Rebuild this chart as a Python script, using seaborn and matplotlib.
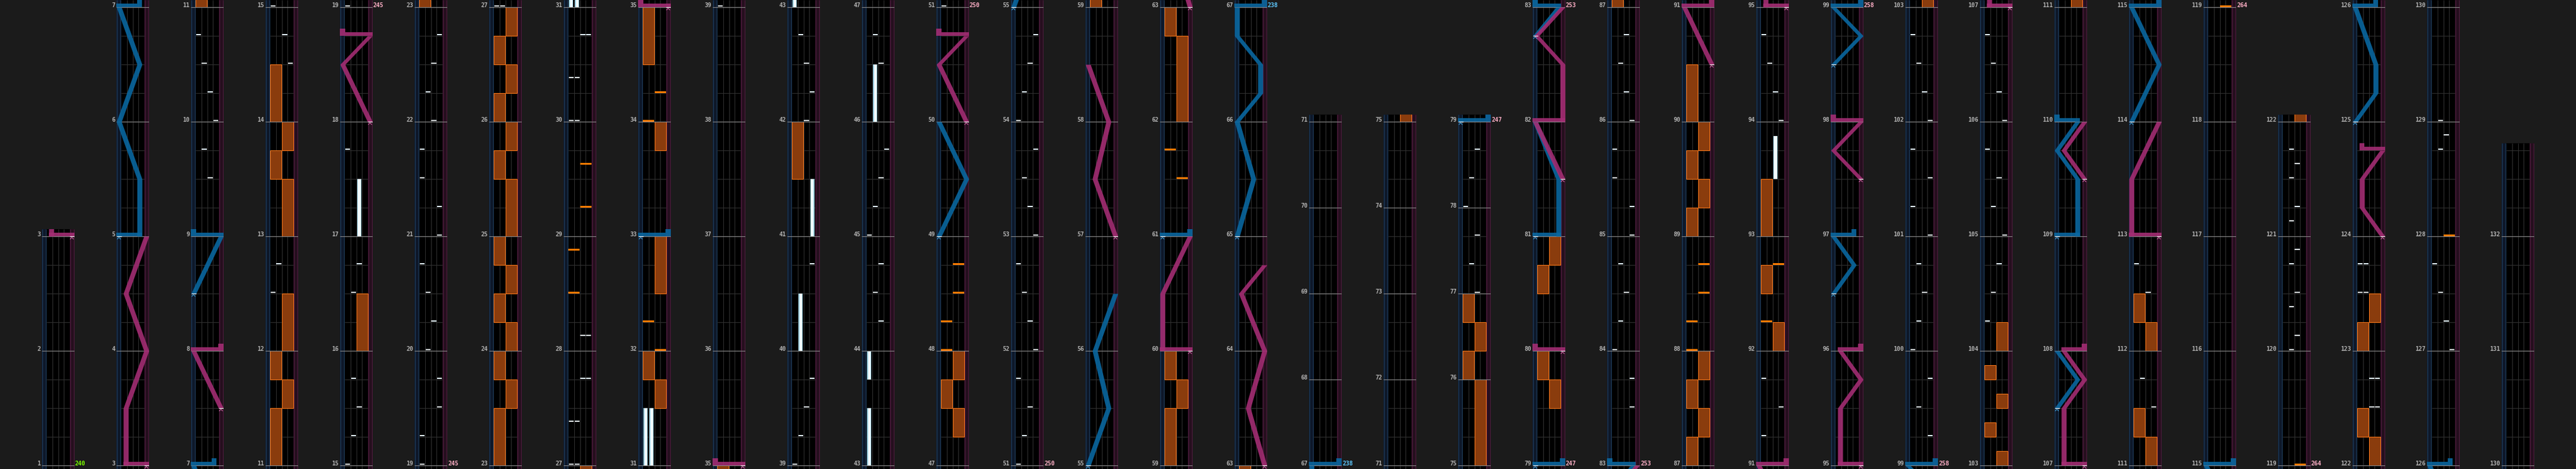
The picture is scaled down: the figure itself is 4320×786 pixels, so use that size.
import numpy as np
import matplotlib
matplotlib.use("Agg")
import matplotlib.pyplot as plt
from matplotlib.patches import Rectangle
import seaborn as sns

# ------------------------------------------------------------------ data
column_start_measures = [1, 3, 7, 11, 15, 19, 23, 27, 31, 35, 39, 43, 47, 51, 55, 59,
                         63, 67, 71, 75, 79, 83, 87, 91, 95, 99, 103, 107, 111, 115,
                         119, 122, 126, 130]
chart_end = (132, 3)                       # measure, beat
three_four_measures = list(range(67, 79))  # 3/4 time signature
bpm_measures = [1, 19, 51, 67, 79, 83, 99, 119]
bpm_values = [240, 245, 250, 238, 247, 253, 258, 264]

# BT chips: (measure, beat, lane 0-3)
bt_chips = [
    (9, 2, 2), (9, 3, 1), (10, 0, 3), (10, 1, 2), (10, 2, 1), (10, 3, 0),
    (12, 2, 0), (12, 3, 1), (14, 2, 3), (14, 3, 2),
    (15, 0, 0), (15, 1, 1), (15, 2, 2), (15, 3, 1), (16, 2, 1), (16, 3, 2), (17, 3, 0),
    (19, 0, 0), (19, 1, 0), (19, 2, 3), (19, 3, 3), (20, 0, 1), (20, 1, 2), (20, 2, 1), (20, 3, 0),
    (21, 0, 3), (21, 1, 3), (21, 2, 0), (21, 3, 0), (22, 0, 2), (22, 1, 1), (22, 2, 2), (22, 3, 3),
    (27, 0, 0), (27, 0, 1), (27, 1.5, 0), (27, 1.5, 1), (27, 3, 2), (27, 3, 3), (28, 0.5, 2), (28, 0.5, 3),
    (30, 0, 0), (30, 0, 1), (30, 1.5, 0), (30, 1.5, 1), (30, 3, 2), (30, 3, 3),
    (39, 0, 0), (39, 1, 1), (39, 2, 2), (39, 3, 3), (40, 3, 3),
    (42, 0, 2), (42, 1, 3), (42, 2, 2), (42, 3, 1),
    (44, 1, 2), (44, 2, 1), (44, 3, 2), (45, 0, 0), (45, 1, 1), (45, 2, 2), (45, 3, 3),
    (46, 2, 2), (46, 3, 1),
    (51, 0, 0), (51, 1, 1), (51, 2, 2), (51, 3, 0), (52, 0, 3), (52, 1, 2), (52, 2, 1), (52, 3, 0),
    (53, 0, 3), (53, 1, 2), (53, 2, 1), (53, 3, 3), (54, 0, 0), (54, 1, 1), (54, 2, 2), (54, 3, 3),
    (77, 0, 2), (77, 1, 1), (77, 2, 2), (78, 0, 0), (78, 1, 1), (78, 2, 2),
    (83, 2, 3), (83, 3, 3), (84, 0, 0), (84, 1, 1), (84, 2, 2), (84, 3, 1),
    (85, 0, 3), (85, 1, 3), (85, 2, 0), (85, 3, 0), (86, 0, 3), (86, 1, 2), (86, 2, 1), (86, 3, 2),
    (91, 1, 0), (91, 2, 3), (91, 3, 0), (94, 0, 3), (94, 1, 2), (94, 2, 1), (94, 3, 0),
    (99, 1, 3), (99, 2, 1), (99, 3, 3), (100, 0, 0), (100, 1, 1), (100, 2, 2), (100, 3, 1),
    (101, 0, 3), (101, 1, 0), (101, 2, 3), (101, 3, 0), (102, 0, 3), (102, 1, 2), (102, 2, 1), (102, 3, 0),
    (104, 1, 0), (104, 2, 1), (104, 3, 2), (105, 0, 3), (105, 1, 1), (105, 2, 2), (105, 3, 0),
    (106, 0, 3), (106, 1, 2), (106, 2, 1), (106, 3, 0),
    (111, 2, 3), (111, 3, 1), (112, 2, 2), (112, 3, 0),
    (120, 0, 1), (120, 0.5, 2), (120, 1.5, 1), (120, 2, 2), (120, 3, 1), (120, 3.5, 2),
    (121, 0.5, 1), (121, 1, 2), (121, 2, 1), (121, 2.5, 2), (121, 3, 1),
    (122, 2, 2), (122, 2, 3), (122, 3, 2), (122, 3, 3), (123, 2, 0), (123, 2, 1), (123, 3, 0), (123, 3, 1),
    (127, 0, 3), (127, 1, 2), (127, 2, 1), (127, 3, 0), (128, 3, 1), (128, 3.5, 2), (129, 0, 1),
]

# BT holds: (measure, beat, length in beats, lane)
bt_holds = [
    (17, 0, 2, 2), (31, 0, 2, 0), (31, 0, 2, 1), (40, 0, 2, 1), (41, 0, 2, 3),
    (43, 0, 2, 0), (43, 3, 1, 0), (46, 0, 2, 1), (93, 2, 1.5, 2),
]

# FX chips: (measure, beat, side 0=L 1=R)
fx_chips = [
    (28, 2, 0), (28, 3.5, 0), (29, 1, 1), (29, 2.5, 1),
    (32, 0, 1), (32, 1, 0), (34, 0, 0), (34, 1, 1),
    (48, 0, 0), (48, 1, 0), (48, 2, 1), (48, 3, 1), (61, 2, 1), (61, 3, 0),
    (88, 0, 0), (88, 1, 0), (88, 2, 1), (88, 3, 1), (92, 1, 0), (92, 3, 1),
    (119, 0, 1), (128, 0, 1),
]

# FX holds: (measure, beat, length in beats, side)
fx_holds = [
    (11, 0, 2, 0), (11, 2, 1, 1), (11, 3, 1, 0), (12, 0, 2, 1), (13, 0, 2, 1), (13, 2, 1, 0),
    (13, 3, 1, 1), (14, 0, 2, 0), (16, 0, 2, 1),
    (23, 0, 2, 0), (23, 2, 1, 1), (23, 3, 1, 0), (24, 0, 1, 1), (24, 1, 1, 0), (24, 2, 1, 1),
    (24, 3, 1, 0), (25, 0, 2, 1), (25, 2, 1, 0), (25, 3, 1, 1), (26, 0, 1, 0), (26, 1, 1, 1),
    (26, 2, 1, 0), (26, 3, 1, 1),
    (31, 2, 1, 1), (31, 3, 1, 0), (32, 2, 2, 1), (33, 3, 1, 1), (34, 2, 2, 0),
    (41, 2, 2, 0), (47, 1, 1, 1), (47, 2, 1, 0), (47, 3, 1, 1),
    (59, 0, 2, 0), (59, 2, 1, 1), (59, 3, 1, 0), (62, 0, 3, 1), (62, 3, 1, 0),
    (75, 0, 3, 1), (76, 0, 1, 0), (76, 1, 1, 1), (76, 2, 1, 0),
    (79, 2, 1, 1), (79, 3, 1, 0), (80, 2, 1, 0), (80, 3, 1, 1),
    (87, 0, 1, 0), (87, 1, 1, 1), (87, 2, 1, 0), (87, 3, 1, 1), (89, 0, 1, 0), (89, 1, 1, 1),
    (89, 2, 1, 0), (89, 3, 1, 1), (90, 0, 2, 0),
    (92, 0, 1, 1), (92, 2, 1, 0), (93, 0, 2, 0),
    (103, 0, 0.5, 1), (103, 1, 0.5, 0), (103, 2, 0.5, 1), (103, 3, 0.5, 0), (104, 0, 1, 1),
    (111, 0, 1, 1), (111, 1, 1, 0), (112, 0, 1, 1), (112, 1, 1, 0),
    (122, 0, 1, 1), (122, 1, 1, 0), (123, 0, 1, 0), (123, 1, 1, 1),
]

# lasers: lists of (measure, beat, position 0..1); equal times = slam
left_lasers = [
    [(5, 0, 0), (5, 0, 0.75), (5, 2, 0.75), (6, 0, 0), (6, 2, 0.75), (7, 0, 0), (7, 0, 0.75)],
    [(8, 2, 0), (9, 0, 1), (9, 0, 0)],
    [(33, 0, 0), (33, 0, 1)],
    [(49, 0, 0), (49, 2, 1), (50, 0, 0)],
    [(55, 0, 0), (55, 2, 0.75), (56, 0, 0.25), (56, 2, 1)],
    [(61, 0, 0), (61, 0, 1)],
    [(65, 0, 0), (65, 2, 0.6), (66, 0, 0), (66, 1, 0.85), (66, 2, 0.85), (66, 3, 0), (67, 0, 0), (67, 0, 1)],
    [(79, 0, 0), (79, 0, 1)],
    [(81, 0, 0), (81, 0, 0.85), (81, 2, 0.85), (82, 0, 0)],
    [(82, 3, 0), (83, 0, 0.85), (83, 0, 0)],
    [(96, 2, 0), (96, 3, 0.75), (97, 0, 0), (97, 0, 0.75)],
    [(98, 2, 0), (98, 3, 1), (99, 0, 0), (99, 0, 1)],
    [(107, 2, 0), (107, 3, 0.75), (108, 0, 0)],
    [(109, 0, 0), (109, 0, 0.75), (109, 2, 0.75), (109, 3, 0), (110, 0, 0.75), (110, 0, 0)],
    [(114, 0, 0), (114, 2, 1), (115, 0, 0), (115, 0, 1)],
    [(125, 0, 0), (125, 1, 0.75), (125, 2, 0.75), (126, 0, 0), (126, 0, 0.75)],
]
right_lasers = [
    [(3, 0, 1), (3, 0, 0.25), (3, 2, 0.25), (4, 0, 1), (4, 2, 0.25), (5, 0, 1)],
    [(7, 2, 1), (8, 0, 0), (8, 0, 1)],
    [(18, 0, 1), (18, 2, 0), (18, 3, 1), (18, 3, 0)],
    [(35, 0, 1), (35, 0, 0)],
    [(50, 0, 1), (50, 2, 0), (50, 3, 1), (50, 3, 0)],
    [(57, 0, 1), (57, 2, 0.25), (58, 0, 0.75), (58, 2, 0)],
    [(60, 0, 1), (60, 0, 0), (60, 2, 0), (61, 0, 1)],
    [(63, 0, 1), (63, 2, 0.4), (64, 0, 1), (64, 2, 0.15), (64, 3, 1)],
    [(80, 0, 1), (80, 0, 0)],
    [(81, 2, 1), (82, 0, 0), (82, 0, 1), (82, 2, 1), (82, 3, 0.05), (83, 0, 1)],
    [(90, 2, 1), (91, 0, 0), (91, 0, 1)],
    [(95, 0, 1), (95, 0, 0.25), (95, 2, 0.25), (95, 3, 1), (96, 0, 0.25), (96, 0, 1)],
    [(97, 2, 1), (97, 3, 0), (98, 0, 1), (98, 0, 0)],
    [(107, 0, 1), (107, 0, 0.25), (107, 2, 0.25), (107, 3, 1), (108, 0, 0.25), (108, 0, 1)],
    [(109, 2, 1), (109, 3, 0.25), (110, 0, 1)],
    [(113, 0, 1), (113, 0, 0), (113, 2, 0), (114, 0, 1)],
    [(124, 0, 1), (124, 1, 0.25), (124, 2, 0.25), (124, 3, 1), (124, 3, 0.25)],
]

# ------------------------------------------------------------------ style
BG = "#1b1b1b"
PX = 72.0 / 100.0          # points per pixel
sns.set_theme(style="dark", rc={"axes.facecolor": BG, "figure.facecolor": BG})
plt.rcParams["font.family"] = ["DejaVu Sans Mono", "DejaVu Sans"]

LASER_COL = {"L": "#0a67a0", "R": "#a32d73"}
MARK_COL = {"L": "#4aaee6", "R": "#e271b4"}


def beats_in(m):
    return 3 if m in three_four_measures else 4


mstart = {1: 0}
for m in range(1, 140):
    mstart[m + 1] = mstart[m] + beats_in(m)


def gb(m, b):
    return mstart[m] + b


cols = []
for i, m0 in enumerate(column_start_measures):
    B0 = mstart[m0]
    if i + 1 < len(column_start_measures):
        m1 = column_start_measures[i + 1]
        B1 = mstart[m1]
        lines = list(range(m0, m1 + 1))
    else:
        B1 = gb(*chart_end)
        lines = list(range(m0, chart_end[0] + 1))
    cols.append((B0, B1, lines))

bpm_color = {}
prev = None
for m, v in zip(bpm_measures, bpm_values):
    if prev is None:
        c = "#7dff00"
    elif v > prev:
        c = "#ffafc6"
    else:
        c = "#5ec8ff"
    bpm_color[m] = (v, c)
    prev = v

fig = plt.figure(figsize=(43.2, 7.86), dpi=100)
ax = fig.add_axes([0, 0, 1, 1])
ax.set_xlim(0, 4320)
ax.set_ylim(786, 0)
ax.set_axis_off()
fig.patch.set_facecolor(BG)

W = 55.0
STRIP = 7.7
LANE = 9.9

for ci, (B0, B1, lines) in enumerate(cols):
    L = 70 + 125 * ci

    def Y(b, B0=B0):
        return 780 - 48 * (b - B0)

    top = Y(B1) - 12
    h = 786 - top
    lo, hi = B0 - 0.2, B1 + 0.3
    clip = Rectangle((L, top), W, h, transform=ax.transData, fc="none", ec="none")

    def add(p, z):
        p.set_zorder(z)
        ax.add_patch(p)
        p.set_clip_path(clip)
        return p

    def line(xs, ys, color, lw, z):
        ln, = ax.plot(xs, ys, color=color, lw=lw * PX, zorder=z, solid_capstyle="butt")
        ln.set_clip_path(clip)
        return ln

    # lane body
    add(Rectangle((L, top), W, h, fc="#000000", ec="none"), 1)
    add(Rectangle((L, top), STRIP, h, fc="#0e1829", ec="none"), 1.1)
    add(Rectangle((L + W - STRIP, top), STRIP, h, fc="#250f1e", ec="none"), 1.1)
    for xx, cc in [(L + 0.7, "#1f3d5c"), (L + STRIP - 0.6, "#1f3d5c"),
                   (L + W - STRIP + 0.6, "#4e1b3d"), (L + W - 0.7, "#4e1b3d")]:
        line([xx, xx], [top, 786], cc, 1.2, 1.2)
    for k in range(1, 4):
        xx = L + STRIP + LANE * k
        line([xx, xx], [top, 786], "#303030", 1.0, 1.2)
    # beat lines
    measure_beats_set = set(mstart[m] for m in lines)
    for k in range(int(np.ceil(lo)), int(np.floor(hi)) + 1):
        if k in measure_beats_set:
            continue
        line([L + STRIP, L + W - STRIP], [Y(k), Y(k)], "#303030", 1.0, 1.3)

    # FX holds
    for (m, b, ln_, s) in fx_holds:
        s0 = gb(m, b)
        s1 = s0 + ln_
        if s1 < lo or s0 > hi:
            continue
        x0 = L + STRIP + 2 * LANE * s + 0.4
        add(Rectangle((x0, Y(s1)), 2 * LANE - 0.8, Y(s0) - Y(s1), fc="#8a3c0d",
                      ec="#ff7a1a", lw=1.0 * PX), 2)
    # BT holds
    for (m, b, ln_, lane) in bt_holds:
        s0 = gb(m, b)
        s1 = s0 + ln_
        if s1 < lo or s0 > hi:
            continue
        x0 = L + STRIP + LANE * lane + 1.3
        add(Rectangle((x0, Y(s1)), LANE - 2.6, Y(s0) - Y(s1), fc="#9fd2e4", ec="none"), 2.5)
        add(Rectangle((x0 + 1.6, Y(s1)), LANE - 5.8, Y(s0) - Y(s1), fc="#f2fbff", ec="none"), 2.6)

    # measure lines + labels
    for m in lines:
        yy = Y(mstart[m])
        line([L, L + W], [yy, yy], "#8a8a8a", 1.1, 3)
        ax.text(L - 2, yy + 0.3, str(m), ha="right", va="baseline", color="#b2b2b2",
                fontsize=7, fontweight="bold", family=["DejaVu Sans Mono", "DejaVu Sans"], zorder=6)
        if m in bpm_color:
            v, c = bpm_color[m]
            ax.text(L + 56, yy + 0.3, str(v), ha="left", va="baseline", color=c,
                    fontsize=7, fontweight="bold", family=["DejaVu Sans Mono", "DejaVu Sans"], zorder=6)

    # FX chips
    for (m, b, s) in fx_chips:
        t = gb(m, b)
        if t < lo or t > hi:
            continue
        x0 = L + STRIP + 2 * LANE * s + 0.4
        add(Rectangle((x0, Y(t) - 3.3), 2 * LANE - 0.8, 2.8, fc="#ff7b00", ec="none"), 3.5)
    # BT chips
    for (m, b, lane) in bt_chips:
        t = gb(m, b)
        if t < lo or t > hi:
            continue
        x0 = L + STRIP + LANE * lane + 0.9
        add(Rectangle((x0, Y(t) - 3.1), LANE - 1.8, 2.5, fc="#e4f2f9", ec="none"), 3.6)

    # lasers
    for side, lasers in (("L", left_lasers), ("R", right_lasers)):
        col = LASER_COL[side]
        for las in lasers:
            pts = [(gb(m, b), p) for (m, b, p) in las]
            if pts[-1][0] < lo - 0.3 or pts[0][0] > hi + 0.3:
                continue

            def cx(p, L=L):
                return L + 4.5 + p * 46.0

            # split into runs at slams
            runs = [[pts[0]]]
            for j in range(1, len(pts)):
                if pts[j][0] == pts[j - 1][0]:
                    runs.append([pts[j]])
                else:
                    runs[-1].append(pts[j])
            for run in runs:
                if len(run) < 2:
                    continue
                ys = np.array([Y(t) for t, _ in run])
                xs = np.array([cx(p) for _, p in run])
                pc = ax.fill_betweenx(ys, xs - 4.2, xs + 4.2, color=col, alpha=0.9,
                                      lw=0, zorder=4)
                pc.set_clip_path(clip)
            for j in range(1, len(pts)):
                if pts[j][0] == pts[j - 1][0]:
                    t = pts[j][0]
                    c1, c2 = cx(pts[j - 1][1]), cx(pts[j][1])
                    x0 = min(c1, c2) - 4.2
                    add(Rectangle((x0, Y(t) - 6), abs(c2 - c1) + 8.4, 6, fc=col,
                                  ec="none", alpha=0.9), 4.1)
                    if j == len(pts) - 1:
                        add(Rectangle((c2 - 4.2, Y(t) - 12), 8.4, 6, fc=col, ec="none",
                                      alpha=0.9), 4.1)
            # start marker
            t0, p0 = pts[0]
            if lo <= t0 <= hi:
                x = cx(p0)
                y = Y(t0)
                line([x - 4, x + 4], [y, y], "#ffffff", 1.2, 4.5)
                line([x - 3, x, x + 3], [y + 5, y + 1.8, y + 5], MARK_COL[side], 1.0, 4.5)

fig.savefig("out.png", dpi=100, facecolor=BG)
